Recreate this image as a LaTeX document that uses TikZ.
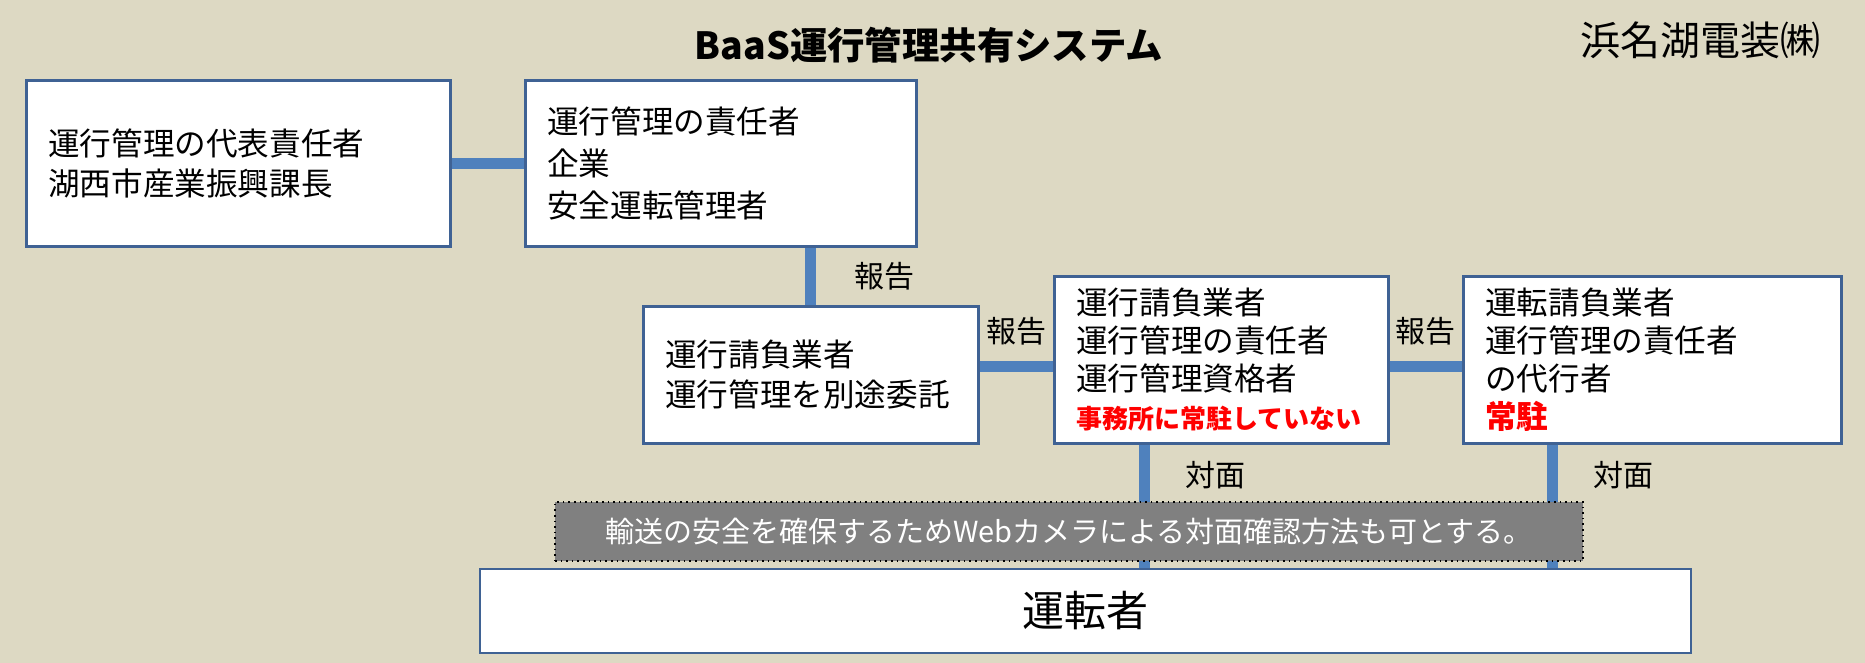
\documentclass[tikz,border=0pt]{standalone}
\usepackage{fontspec}
\setmainfont{Noto Sans CJK JP}
\usepackage{xcolor}
\usetikzlibrary{positioning,calc}
\definecolor{bgtan}{HTML}{DDD9C3}
\definecolor{boxline}{HTML}{3F6294}
\definecolor{linkblue}{HTML}{4F81BD}
\definecolor{notegray}{HTML}{808080}

\begin{document}
\begin{tikzpicture}[x=0.5pt, y=-0.5pt,
  box/.style={rectangle, draw=boxline, line width=1.3pt, fill=white, anchor=north west,
              align=left, inner xsep=11pt, font=\fontsize{15.8}{20}\selectfont},
  link/.style={draw=linkblue, line width=5.5pt},
  lbl/.style={font=\fontsize{15}{18}\selectfont, inner sep=0pt},
  warn/.style={text=red}
]
\fill[bgtan] (0,0) rectangle (1865,663);
\useasboundingbox (0,0) rectangle (1865,663);
% headings
\node[font=\bfseries\fontsize{18.7}{22}\selectfont] (title) at (929,45) {BaaS運行管理共有システム};
\node[font=\fontsize{20}{24}\selectfont] (firm) at (1700,40) {浜名湖電装㈱};
% boxes
\node[box, text width=190pt, minimum height=83pt] (rep) at (25,79) {運行管理の代表責任者\\湖西市産業振興課長};
\node[box, text width=173.5pt, minimum height=83pt, font=\fontsize{15.8}{21}\selectfont] (chief) at (524,79)
  {運行管理の責任者\\企業\\安全運転管理者};
\node[box, text width=145.5pt, minimum height=68.5pt] (outsrc) at (642,305) {運行請負業者\\運行管理を別途委託};
\node[box, text width=145pt, minimum height=83.5pt, font=\fontsize{15.8}{19}\selectfont] (opsub) at (1053,275)
  {運行請負業者\\運行管理の責任者\\運行管理資格者\\{\color{red}\bfseries\fontsize{13}{19}\selectfont 事務所に常駐していない}};
\node[box, text width=167pt, minimum height=83.5pt, font=\fontsize{15.8}{19}\selectfont] (drvsub) at (1462,275)
  {運転請負業者\\運行管理の責任者\\の代行者\\{\color{red}\bfseries 常駐}};
\node[box, anchor=center, align=center, minimum width=605.5pt, minimum height=42pt,
      font=\fontsize{21}{24}\selectfont] (driver) at (1085.5,611) {運転者};
% connectors
\coordinate (rowCD) at (0,367);
\coordinate (faceD) at (1144,0);
\coordinate (faceE) at (1552,0);
\draw[link] (rep.east) -- (chief.west);
\draw[link] (outsrc.north |- chief.south) -- node[lbl, right=19pt]{報告} (outsrc.north);
\draw[link] (outsrc.east |- rowCD) -- node[lbl, above=8pt]{報告} (opsub.west |- rowCD);
\draw[link] (opsub.east |- rowCD) -- node[lbl, above=8pt]{報告} (drvsub.west |- rowCD);
\draw[link] (opsub.south -| faceD) -- node[lbl, pos=0.25, right=18pt]{対面} (driver.north -| faceD);
\draw[link] (drvsub.south -| faceE) -- node[lbl, pos=0.25, right=18pt]{対面} (driver.north -| faceE);
% note over the lines
\node[draw=black, dotted, line width=0.8pt, fill=notegray, text=white, minimum width=514pt, minimum height=29.5pt,
      font=\fontsize{14.5}{17}\selectfont] (cam) at (1069,531.5) {輸送の安全を確保するためWebカメラによる対面確認方法も可とする。};
\end{tikzpicture}
\end{document}
